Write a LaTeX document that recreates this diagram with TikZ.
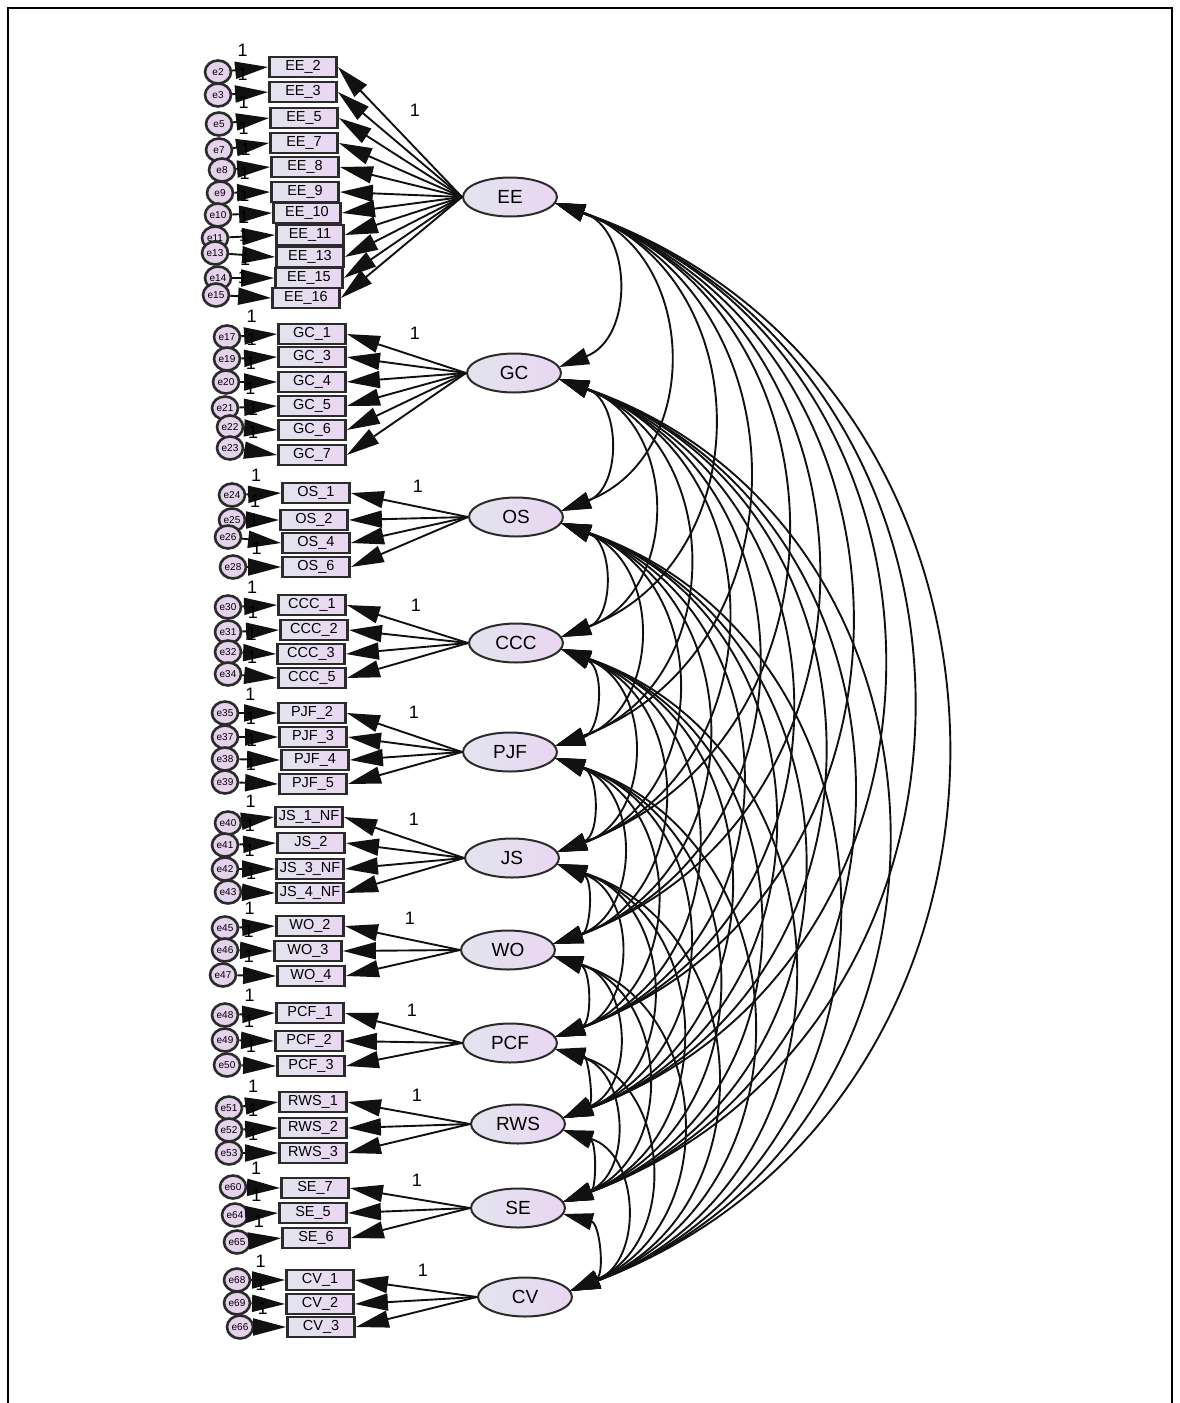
\documentclass[tikz,border=0pt]{standalone}
\usepackage{fontspec}
\setmainfont{Liberation Sans}
\usepackage{xcolor}
\definecolor{ink}{HTML}{111111}
\definecolor{edge}{HTML}{2B2B2B}
\definecolor{boxl}{HTML}{E2E4EE}
\definecolor{boxr}{HTML}{EAD6F1}
\definecolor{errfill}{HTML}{E5D3EC}
\usetikzlibrary{shapes.geometric,arrows.meta,calc}
% one block of indicators: text/x/y/error/ex/ey
\newcommand{\obsgroup}[2]{%
  \foreach \txt/\bx/\by/\err/\ex/\ey [count=\i] in {#2} {%
    \node[err] (#1-e\i) at (\ex,\ey) {\err};
    \node[obs] (#1-b\i) at (\bx,\by) {\txt};
    \node[one] (#1-u\i) at ($(#1-e\i)!0.45!(#1-b\i.west)+(2,-19)$) {1};
    \draw[reg] (#1-e\i) -- (#1-b\i.west);
    \draw[reg] (#1.west) -- (#1-b\i.east);
  }%
}

\begin{document}
\begin{tikzpicture}[x=1pt, y=-1pt,
  latent/.style={ellipse, draw=edge, line width=2pt, minimum width=94pt, minimum height=39pt,
                 inner sep=0pt, left color=boxl, right color=boxr, font=\fontsize{19}{19}\selectfont},
  obs/.style={rectangle, draw=edge, line width=2.8pt, minimum width=67pt, minimum height=20pt,
              inner sep=0pt, left color=boxl, right color=boxr, font=\fontsize{14.5}{14.5}\selectfont},
  err/.style={ellipse, draw=edge, line width=2.6pt, minimum width=26pt, minimum height=23pt,
              inner sep=0pt, fill=errfill, font=\fontsize{10}{10}\selectfont},
  one/.style={inner sep=0pt, font=\fontsize{18}{18}\selectfont},
  reg/.style={-{Triangle[length=33pt,width=17pt]}, line width=1.9pt, color=ink},
  cov/.style={{Triangle[length=30pt,width=17pt]}-{Triangle[length=30pt,width=17pt]},
              line width=1.9pt, color=ink}
]
  \useasboundingbox (0,0) rectangle (1179,1403);
  \draw[line width=2.6pt] (8,1403) -- (8,8) -- (1172,8) -- (1172,1403);

  \node[latent] (EE)  at (510,197)  {EE};
  \node[latent] (GC)  at (514,373)  {GC};
  \node[latent] (OS)  at (516,517)  {OS};
  \node[latent] (CCC) at (516,643)  {CCC};
  \node[latent] (PJF) at (510,752)  {PJF};
  \node[latent] (JS)  at (512,858)  {JS};
  \node[latent] (WO)  at (508,950)  {WO};
  \node[latent] (PCF) at (510,1043) {PCF};
  \node[latent] (RWS) at (518,1124) {RWS};
  \node[latent] (SE)  at (518,1208) {SE};
  \node[latent] (CV)  at (525,1297) {CV};

  \obsgroup{EE}{EE\_2/303/67/e2/218/72, EE\_3/303/92/e3/218/95, EE\_5/304/118/e5/219/124,
    EE\_7/304/143/e7/219/150, EE\_8/305/167/e8/222/170, EE\_9/305/192/e9/220/193,
    EE\_10/307/213/e10/218/215, EE\_11/310/235/e11/215/238, EE\_13/310/257/e13/215/253,
    EE\_15/309/278/e14/218/278, EE\_16/306/298/e15/216/295}
  \obsgroup{GC}{GC\_1/312/334/e17/227/337, GC\_3/312/357/e19/227/359, GC\_4/312/382/e20/226/382,
    GC\_5/312/406/e21/225/408, GC\_6/312/430/e22/230/427, GC\_7/312/455/e23/230/448}
  \obsgroup{OS}{OS\_1/316/493/e24/232/495, OS\_2/314/520/e25/232/520, OS\_4/316/543/e26/228/537,
    OS\_6/316/567/e28/233/567}
  \obsgroup{CCC}{CCC\_1/312/605/e30/228/607, CCC\_2/314/630/e31/228/632, CCC\_3/311/654/e32/228/652,
    CCC\_5/312/678/e34/228/674}
  \obsgroup{PJF}{PJF\_2/312/713/e35/225/713, PJF\_3/313/737/e37/225/737, PJF\_4/315/760/e38/225/759,
    PJF\_5/313/784/e39/225/782}
  \obsgroup{JS}{JS\_1\_NF/309/817/e40/228/823, JS\_2/311/843/e41/225/845, JS\_3\_NF/310/869/e42/225/869,
    JS\_4\_NF/310/893/e43/228/892}
  \obsgroup{WO}{WO\_2/310/926/e45/225/928, WO\_3/308/951/e46/225/950, WO\_4/311/976/e47/223/975}
  \obsgroup{PCF}{PCF\_1/310/1013/e48/225/1015, PCF\_2/309/1041/e49/225/1040, PCF\_3/311/1066/e50/227/1065}
  \obsgroup{RWS}{RWS\_1/313/1102/e51/229/1108, RWS\_2/313/1128/e52/229/1130, RWS\_3/313/1153/e53/229/1153}
  \obsgroup{SE}{SE\_7/315/1188/e60/233/1187, SE\_5/313/1213/e64/235/1215, SE\_6/316/1238/e65/237/1242}
  \obsgroup{CV}{CV\_1/320/1280/e68/237/1280, CV\_2/320/1304/e69/237/1303, CV\_3/321/1327/e66/240/1327}

  % loadings fixed to 1
  \node[one] (EE-w)  at (415,110)  {1};
  \node[one] (GC-w)  at (415,333)  {1};
  \node[one] (OS-w)  at (418,486)  {1};
  \node[one] (CCC-w) at (416,605)  {1};
  \node[one] (PJF-w) at (414,712)  {1};
  \node[one] (JS-w)  at (414,819)  {1};
  \node[one] (WO-w)  at (410,918)  {1};
  \node[one] (PCF-w) at (412,1010) {1};
  \node[one] (RWS-w) at (417,1095) {1};
  \node[one] (SE-w)  at (417,1180) {1};
  \node[one] (CV-w)  at (423,1270) {1};

  % covariances, drawn as circular-looking arcs
  \foreach \a [count=\i] in {EE,GC,OS,CCC,PJF,JS,WO,PCF,RWS,SE,CV}
    \foreach \b [count=\j] in {EE,GC,OS,CCC,PJF,JS,WO,PCF,RWS,SE,CV}
      {\ifnum\j>\i\relax
         \coordinate (s) at ($(\a)+(45,6)$);
         \coordinate (t) at ($(\b)+(45,-6)$);
         \draw[cov] (s) .. controls ($(s)!0.4967!70:(t)$) and ($(t)!0.4967!-70:(s)$) .. (t);
       \fi}
\end{tikzpicture}
\end{document}
